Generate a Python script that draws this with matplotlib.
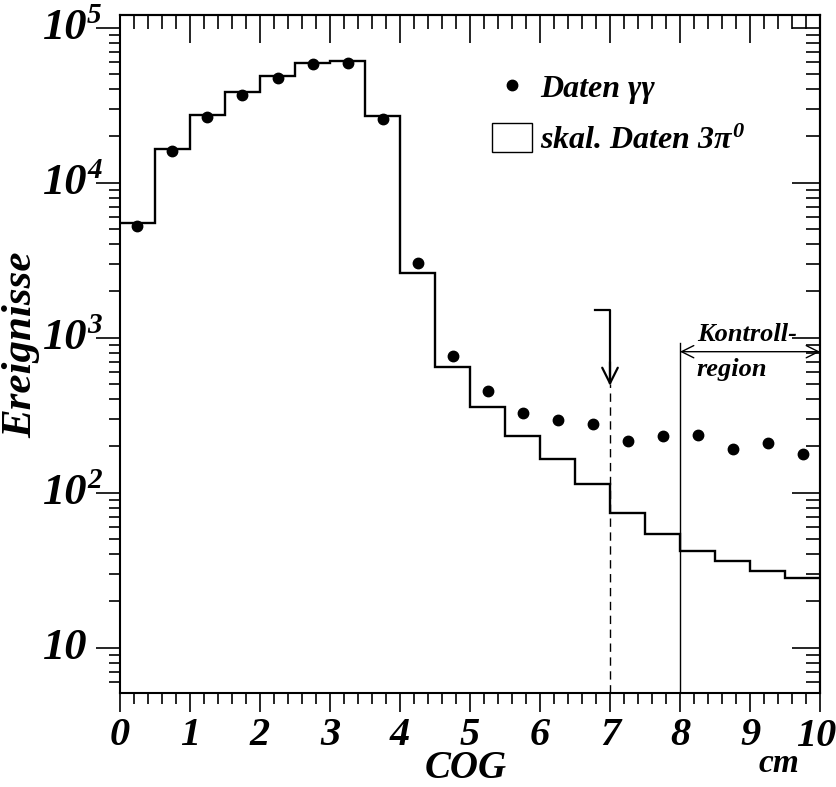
import matplotlib
matplotlib.use('Agg')
import matplotlib.pyplot as plt
import matplotlib.ticker as mticker
import matplotlib.transforms as mtrans
from matplotlib.lines import Line2D
from matplotlib.patches import Patch
import numpy as np

plt.rcParams['font.family'] = 'Liberation Serif'
plt.rcParams['font.weight'] = 'bold'
plt.rcParams['font.style'] = 'italic'
plt.rcParams['mathtext.fontset'] = 'custom'
plt.rcParams['mathtext.rm'] = 'Liberation Serif:bold:italic'
plt.rcParams['mathtext.it'] = 'Liberation Serif:bold:italic'
plt.rcParams['mathtext.bf'] = 'Liberation Serif:bold:italic'

# COG bins (cm) and counts
edges = np.arange(0, 10.01, 0.5)
centers = edges[:-1] + 0.25
daten_gg = [5280, 16070, 26560, 37000, 47700, 58300, 59100, 25900, 3030, 757,
            451, 325, 293, 277, 217, 234, 237, 191, 209, 178]
skal_3pi0 = [5500, 16500, 27500, 38600, 49000, 59700, 60900, 26800, 2610, 647,
             360, 231, 165, 113, 74, 54, 41.8, 36.5, 31.3, 28.0]
xticks = list(range(0, 11))
ydecades = [10, 100, 1000, 10000, 100000]

cut_x = 7
kontroll_x = 8

W, H = 837, 787
fig = plt.figure(figsize=(W / 100, H / 100), dpi=100)
ax = fig.add_axes([120 / W, 1 - 693 / H, 700 / W, 678 / H])

ax.stairs(skal_3pi0, edges, baseline=None, color='black', lw=1.7)
ax.plot(centers, daten_gg, 'o', color='black', ms=7.5)

ax.set_yscale('log')
ax.set_xlim(0, 10)
ax.set_ylim(5.1, 1.21e5)

for s in ax.spines.values():
    s.set_linewidth(1.5)

# bottom / left ticks point outward
ax.set_xticks(xticks)
ax.set_xticklabels([str(t) for t in xticks[:-1]] + [''])
ax.xaxis.set_minor_locator(mticker.MultipleLocator(0.2))
ax.tick_params(axis='x', which='major', direction='out', length=14, width=1.2,
               labelsize=29, pad=3)
ax.tick_params(axis='x', which='minor', direction='out', length=8, width=1.2)
ax.set_yticks(ydecades)
ax.yaxis.set_minor_locator(mticker.LogLocator(subs=np.arange(2, 10)))
ax.yaxis.set_minor_formatter(mticker.NullFormatter())
ax.set_yticklabels([])
ax.tick_params(axis='y', which='major', direction='out', length=17, width=1.2)
ax.tick_params(axis='y', which='minor', direction='out', length=8, width=1.2)

# last x label sits flush with the right edge, "cm" between 9 and 10
xtr = ax.get_xaxis_transform()
ax.text(10, 0, '10', transform=mtrans.offset_copy(xtr, fig=fig, x=16, y=-25, units='dots'),
        ha='right', va='top', fontsize=29)
fig.text(779 / W, 1 - 763 / H, 'cm', ha='center', va='center', fontsize=24)

# top / right ticks point inward
top = ax.secondary_xaxis('top')
top.set_xticks(xticks)
top.xaxis.set_minor_locator(mticker.MultipleLocator(0.2))
top.tick_params(which='major', direction='in', length=20, width=1.2, labeltop=False)
top.tick_params(which='minor', direction='in', length=10, width=1.2)
top.spines['top'].set_linewidth(1.5)

right = ax.secondary_yaxis('right')
right.set_yticks(ydecades)
right.yaxis.set_minor_locator(mticker.LogLocator(subs=np.arange(2, 10)))
right.yaxis.set_minor_formatter(mticker.NullFormatter())
right.tick_params(which='major', direction='in', length=20, width=1.2, labelright=False)
right.tick_params(which='minor', direction='in', length=10, width=1.2)
right.spines['right'].set_linewidth(1.5)

# y tick labels: "10" plus raised exponent
ytr = ax.get_yaxis_transform()
for v in ydecades:
    n = int(round(np.log10(v)))
    base = mtrans.offset_copy(ytr, fig=fig, x=-33, y=0, units='dots')
    ax.text(0, v, '10', transform=base, ha='right', va='center', fontsize=32)
    if n > 1:
        sup = mtrans.offset_copy(ytr, fig=fig, x=-33, y=-1, units='dots')
        ax.text(0, v, str(n), transform=sup, ha='left', va='bottom', fontsize=21)

fig.text(466 / W, 1 - 769 / H, 'COG', ha='center', va='center', fontsize=28)
fig.text(21 / W, 1 - 345 / H, 'Ereignisse', ha='center', va='center',
         rotation=90, fontsize=31)

# cut position with arrow
ax.plot([cut_x, cut_x], [5.1, 500], color='black', lw=1.0, ls=(0, (6, 4)))
ax.plot([6.79, cut_x, cut_x], [1510, 1510, 510], color='black', lw=1.6)
ax.annotate('', xy=(cut_x, 490), xytext=(cut_x, 700),
            arrowprops=dict(arrowstyle='->', lw=1.6, color='black',
                            mutation_scale=28, shrinkA=0, shrinkB=0))

# control region
ax.plot([kontroll_x, kontroll_x], [5.1, 930], color='black', lw=1.0)
ax.annotate('', xy=(kontroll_x, 813), xytext=(10, 813),
            arrowprops=dict(arrowstyle='<->', lw=1.0, color='black',
                            mutation_scale=22, shrinkA=0, shrinkB=0))
ax.text(8.24, 1045, 'Kontroll-', ha='left', va='center', fontsize=19)
ax.text(8.24, 622, 'region', ha='left', va='center', fontsize=19)

handles = [Line2D([], [], marker='o', ls='none', color='black', ms=7.5),
           Patch(facecolor='white', edgecolor='black', lw=1.0)]
ax.legend(handles, ['Daten \u03b3\u03b3', 'skal. Daten 3$\\pi^{0}$'],
          loc='upper left', bbox_to_anchor=(492 / W, 1 - 72 / H),
          bbox_transform=fig.transFigure, frameon=False, fontsize=23,
          borderpad=0, borderaxespad=0, handlelength=1.25, handleheight=1.0,
          handletextpad=0.25, labelspacing=0.6)

fig.savefig('out.png', dpi=100)
